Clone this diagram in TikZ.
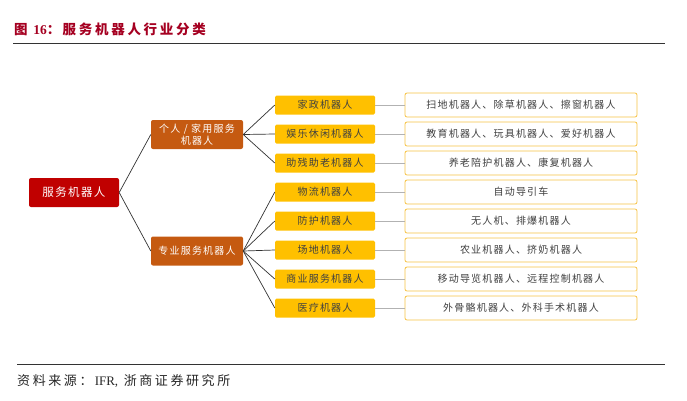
\documentclass[tikz,border=0pt]{standalone}
\usepackage{fontspec}
\setmainfont{Liberation Serif}
\newfontfamily\cjk{Noto Sans CJK SC}[LetterSpace=12]
\newfontfamily\cjkw{Noto Sans CJK SC}[LetterSpace=20]
\definecolor{titlered}{HTML}{A50021}
\definecolor{rootred}{HTML}{C00000}
\definecolor{brown}{HTML}{C55A11}
\definecolor{gold}{HTML}{FFC000}
\definecolor{goldline}{HTML}{F6C345}
\definecolor{txt}{HTML}{404040}
\begin{document}
\begin{tikzpicture}[x=1pt,y=-1pt,
  rootbox/.style={fill=rootred,rounded corners=2pt,minimum width=90pt,minimum height=29pt,text=white,font=\cjk\fontsize{11.5}{14}\selectfont},
  midbox/.style={fill=brown,rounded corners=2pt,minimum width=92pt,minimum height=29pt,text=white,align=center,font=\cjk\fontsize{10}{12.5}\selectfont,inner sep=1pt},
  catbox/.style={fill=gold,rounded corners=1.5pt,minimum width=100pt,minimum height=19pt,text=txt,inner sep=0pt,font=\cjk\fontsize{10}{12}\selectfont},
  descbox/.style={draw=goldline,line width=0.8pt,fill=white,rounded corners=2pt,minimum width=232pt,minimum height=24pt,text=txt,inner sep=0pt,font=\cjk\fontsize{10}{12}\selectfont},
  treeline/.style={draw=black!80,line width=0.7pt},
  greyline/.style={draw=black!30,line width=1pt},
  rule/.style={draw=black!80,line width=1pt}]
\useasboundingbox (0,0) rectangle (687,400);
% title
\node[anchor=west,text=titlered,inner sep=0pt,font=\cjkw\bfseries\fontsize{13.5}{15}\selectfont] (title) at (14,29) {图 {\rmfamily\bfseries 16}：\,服务机器人行业分类};
\coordinate (t1) at (13,43); \coordinate (t2) at (665,43);
\draw[rule] (t1) -- (t2);
% source
\coordinate (b1) at (17,364); \coordinate (b2) at (665,364);
\draw[rule] (b1) -- (b2);
\node[anchor=west,text=black!85,inner sep=0pt,font=\cjkw\fontsize{13}{15}\selectfont] (src) at (17,381) {资料来源：\,{\rmfamily IFR,} 浙商证券研究所};
% nodes
\node[rootbox] (root) at (74,192.5) {服务机器人};
\node[midbox] (home) at (197,134.5) {个人 / 家用服务\\机器人};
\node[midbox] (pro) at (197,251) {专业服务机器人};
\foreach \n/\y/\a/\b in {
  c1/105/家政机器人/扫地机器人、除草机器人、擦窗机器人,
  c2/134/娱乐休闲机器人/教育机器人、玩具机器人、爱好机器人,
  c3/163/助残助老机器人/养老陪护机器人、康复机器人,
  c4/192/物流机器人/自动导引车,
  c5/221/防护机器人/无人机、排爆机器人,
  c6/250/场地机器人/农业机器人、挤奶机器人,
  c7/279/商业服务机器人/移动导览机器人、远程控制机器人,
  c8/308/医疗机器人/外骨骼机器人、外科手术机器人}{
  \node[catbox] (\n) at (325,\y) {\a};
  \node[descbox] (d\n) at (521,\y) {\b};
  \draw[greyline] (\n.east) -- (d\n.west);
}
\draw[treeline] (root.east) -- (home.west);
\draw[treeline] (root.east) -- (pro.west);
\foreach \n in {c1,c2,c3} \draw[treeline] (home.east) -- (\n.west);
\foreach \n in {c4,c5,c6,c7,c8} \draw[treeline] (pro.east) -- (\n.west);
\end{tikzpicture}
\end{document}
